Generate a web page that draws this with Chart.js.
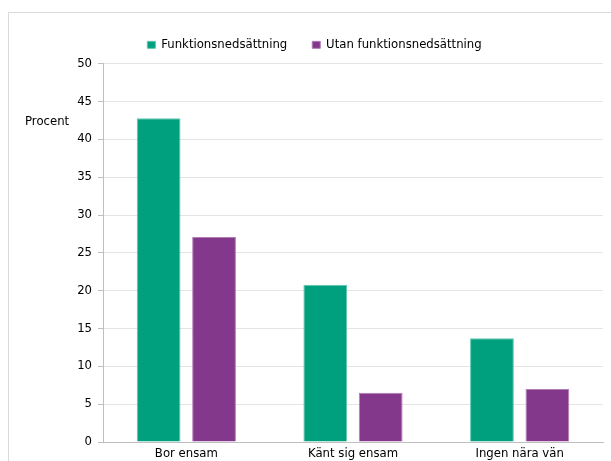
<!DOCTYPE html>
<html>
<head>
<meta charset="utf-8">
<script src="https://cdn.jsdelivr.net/npm/chart.js@4"></script>
<style>
  body { margin: 0; background: #fff; }
  #wrap { position: relative; width: 611px; height: 461px; overflow: hidden; }
  #frame { position: absolute; left: 8px; top: 12px; width: 700px; height: 600px; border: 1px solid #d9d9d9; }
  canvas { position: absolute; left: 0; top: 0; }
</style>
</head>
<body>
<div id="wrap">
  <div id="frame"></div>
  <canvas id="chart" width="611" height="461"></canvas>
</div>
<script>
const categories = ['Bor ensam', 'Känt sig ensam', 'Ingen nära vän'];
const seriesNames = ['Funktionsnedsättning', 'Utan funktionsnedsättning'];
const withDisability = [42.8, 20.8, 13.7];
const withoutDisability = [27.1, 6.5, 7.0];
const yTicks = [0, 5, 10, 15, 20, 25, 30, 35, 40, 45, 50];

const FONT = 'DejaVu Sans, Verdana, sans-serif';
const FSIZE = 11.7;

// "Procent" label left of the value axis
const procentLabel = {
    id: 'procentLabel',
    afterDraw(chart) {
        const ctx = chart.ctx;
        const y = chart.scales.y.getPixelForValue(42.3);
        ctx.save();
        ctx.font = FSIZE + 'px ' + FONT;
        ctx.fillStyle = '#000';
        ctx.textAlign = 'left';
        ctx.textBaseline = 'middle';
        ctx.fillText('Procent', 25, y);
        ctx.restore();
    }
};

// a little extra room under the legend, without moving the legend itself
const legendSpacer = {
    id: 'legendSpacer',
    beforeLayout(chart) {
        const lg = chart.legend;
        if (lg && !lg._spaced) {
            const fit = lg.fit;
            lg.fit = function () { fit.call(this); this.height += 3; };
            lg._spaced = true;
        }
    }
};

new Chart(document.getElementById('chart'), {
    type: 'bar',
    data: {
        labels: categories,
        datasets: [
            {
                label: seriesNames[0],
                data: withDisability,
                backgroundColor: '#009f7e',
                borderColor: '#5fc7ae',
                borderWidth: 1
            },
            {
                label: seriesNames[1],
                data: withoutDisability,
                backgroundColor: '#84388b',
                borderColor: '#b27db6',
                borderWidth: 1
            }
        ]
    },
    options: {
        responsive: false,
        animation: false,
        datasets: { bar: { categoryPercentage: 0.665, barPercentage: 0.79 } },
        layout: { padding: { left: 26, right: 8, top: 14, bottom: 0 } },
        plugins: {
            tooltip: { enabled: false },
            legend: {
                position: 'top',
                labels: {
                    boxWidth: 8,
                    boxHeight: 7,
                    padding: 25,
                    color: '#000',
                    font: { family: FONT, size: FSIZE }
                }
            }
        },
        scales: {
            x: {
                afterFit(scale) { scale.height = 19; },
                grid: { display: false, drawTicks: false },
                border: { color: '#bfbfbf' },
                ticks: { color: '#000', font: { family: FONT, size: FSIZE }, padding: 5 }
            },
            y: {
                min: 0,
                max: 50,
                afterBuildTicks(scale) { scale.ticks = yTicks.map(v => ({ value: v })); },
                afterFit(scale) { scale.width = 77; },
                grid: { color: '#e4e4e4', tickLength: 5, tickColor: '#bfbfbf' },
                border: { color: '#bfbfbf' },
                ticks: { color: '#000', font: { family: FONT, size: FSIZE }, padding: 6 }
            }
        }
    },
    plugins: [procentLabel, legendSpacer]
});
</script>
</body>
</html>
